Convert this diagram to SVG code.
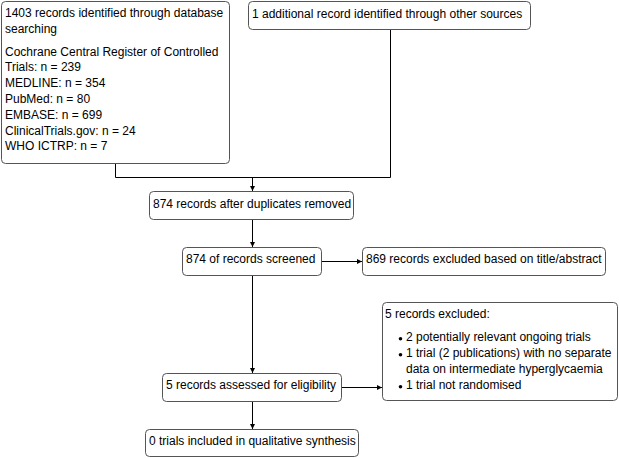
<svg xmlns="http://www.w3.org/2000/svg" width="619" height="458" viewBox="0 0 619 458">
<defs>
<marker id="ah" viewBox="0 0 6 6" refX="6" refY="3" markerWidth="5" markerHeight="5" orient="auto" markerUnits="userSpaceOnUse">
<path d="M0,0 L6,3 L0,6 z" fill="#000"/>
</marker>
<style>
.box{fill:#fff;stroke:#555;stroke-width:1}
text{font-family:"Liberation Sans",Arial,sans-serif;font-size:12px;fill:#000}
.c{fill:none;stroke:#000;stroke-width:1}
.a{marker-end:url(#ah)}
.b{fill:#000}
</style>
</defs>
<rect width="619" height="458" fill="#fff"/>
<g id="connectors">
<path class="c" d="M115.5,163 V177.5 H390.5"/>
<path class="c" d="M390.5,29 V177.5"/>
<path class="c a" d="M252.5,177.5 V191"/>
<path class="c a" d="M252.5,219 V247"/>
<path class="c a" d="M321,261.5 H362"/>
<path class="c a" d="M252.5,275 V373"/>
<path class="c a" d="M341,387.5 H382"/>
<path class="c a" d="M252.5,401 V429"/>
</g>
<g id="n1">
<rect class="box" x="1.5" y="1.5" width="228" height="162" rx="4"/>
<text x="5" y="17">1403 records identified through database</text>
<text x="5" y="33">searching</text>
<text x="5" y="55.5">Cochrane Central Register of Controlled</text>
<text x="5" y="71.3">Trials: n = 239</text>
<text x="5" y="87.1">MEDLINE: n = 354</text>
<text x="5" y="102.9">PubMed: n = 80</text>
<text x="5" y="118.7">EMBASE: n = 699</text>
<text x="5" y="134.5">ClinicalTrials.gov: n = 24</text>
<text x="5" y="150.3">WHO ICTRP: n = 7</text>
</g>
<g id="n2">
<rect class="box" x="248.5" y="1.5" width="282" height="28" rx="4"/>
<text x="252" y="17.5">1 additional record identified through other sources</text>
</g>
<g id="n3">
<rect class="box" x="149.5" y="191.5" width="204" height="28" rx="4"/>
<text x="153" y="207.5">874 records after duplicates removed</text>
</g>
<g id="n4">
<rect class="box" x="182.5" y="247.5" width="139" height="28" rx="4"/>
<text x="186" y="262.5">874 of records screened</text>
</g>
<g id="n5">
<rect class="box" x="362.5" y="247.5" width="243" height="28" rx="4"/>
<text x="366" y="262.5">869 records excluded based on title/abstract</text>
</g>
<g id="n6">
<rect class="box" x="382.5" y="302.5" width="235" height="98" rx="4"/>
<text x="385" y="317.5">5 records excluded:</text>
<circle class="b" cx="400.5" cy="338.7" r="1.8"/>
<text x="406" y="340.5">2 potentially relevant ongoing trials</text>
<circle class="b" cx="400.5" cy="354.7" r="1.8"/>
<text x="406" y="356.5">1 trial (2 publications) with no separate</text>
<text x="406" y="372.5">data on intermediate hyperglycaemia</text>
<circle class="b" cx="400.5" cy="386.7" r="1.8"/>
<text x="406" y="388.5">1 trial not randomised</text>
</g>
<g id="n7">
<rect class="box" x="162.5" y="373.5" width="179" height="28" rx="4"/>
<text x="166" y="388.5">5 records assessed for eligibility</text>
</g>
<g id="n8">
<rect class="box" x="145.5" y="429.5" width="213" height="27" rx="4"/>
<text x="149" y="445">0 trials included in qualitative synthesis</text>
</g>
</svg>
